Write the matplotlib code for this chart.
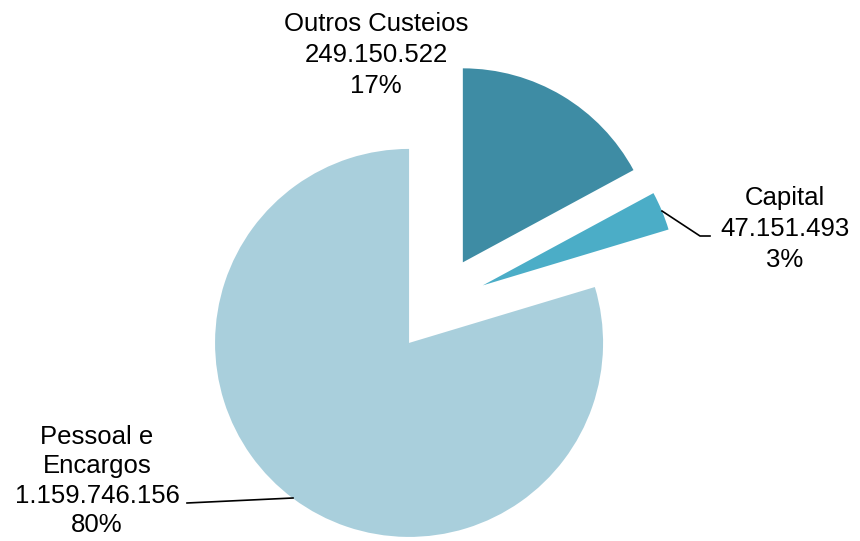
import matplotlib
matplotlib.use("Agg")
import matplotlib.pyplot as plt

# Data
categories = ["Outros Custeios", "Capital", "Pessoal e\nEncargos"]
values = [249150522, 47151493, 1159746156]
colors = ["#3E8CA4", "#4BADC7", "#A9CFDC"]

plt.rcParams['font.family'] = ['Liberation Sans', 'DejaVu Sans']

W, H = 860, 541
CX, CY, R = 438, 304, 194  # pie centre and radius in pixels


def px(x, y):
    # pixel -> data coordinates (radius = 1)
    return (x - CX) / R, (CY - y) / R


def fmt(v):
    return f"{v:,}".replace(",", ".")


fig = plt.figure(figsize=(W / 100, H / 100), dpi=100)
ax = fig.add_axes([0, 0, 1, 1])

ax.pie(values, colors=colors, startangle=90, counterclock=False,
       explode=[0.25, 0.25, 0.25], radius=1,
       wedgeprops=dict(linewidth=0))

# pie resets limits, so set them afterwards
ax.set_aspect("auto")
ax.set_xlim(-CX / R, (W - CX) / R)
ax.set_ylim((CY - H) / R, CY / R)
ax.axis("off")

total = sum(values)
labels = [f"{c}\n{fmt(v)}\n{round(v / total * 100)}%" for c, v in zip(categories, values)]

# label positions (pixels)
label_pos = [(376, 55), (785, 229), (97, 481)]
spacing = [1.36, 1.36, 1.28]
for lab, (x, y), ls in zip(labels, label_pos, spacing):
    tx, ty = px(x, y)
    ax.text(tx, ty, lab, ha="center", va="center", fontsize=18.5,
            linespacing=ls, color="black")

# leader lines
for pts in [[(662, 211), (700, 236), (710, 236)],
            [(187, 503), (293, 498)]]:
    xs, ys = zip(*[px(x, y) for x, y in pts])
    ax.plot(xs, ys, color="black", lw=1.2)

fig.savefig("out.png", dpi=100)
